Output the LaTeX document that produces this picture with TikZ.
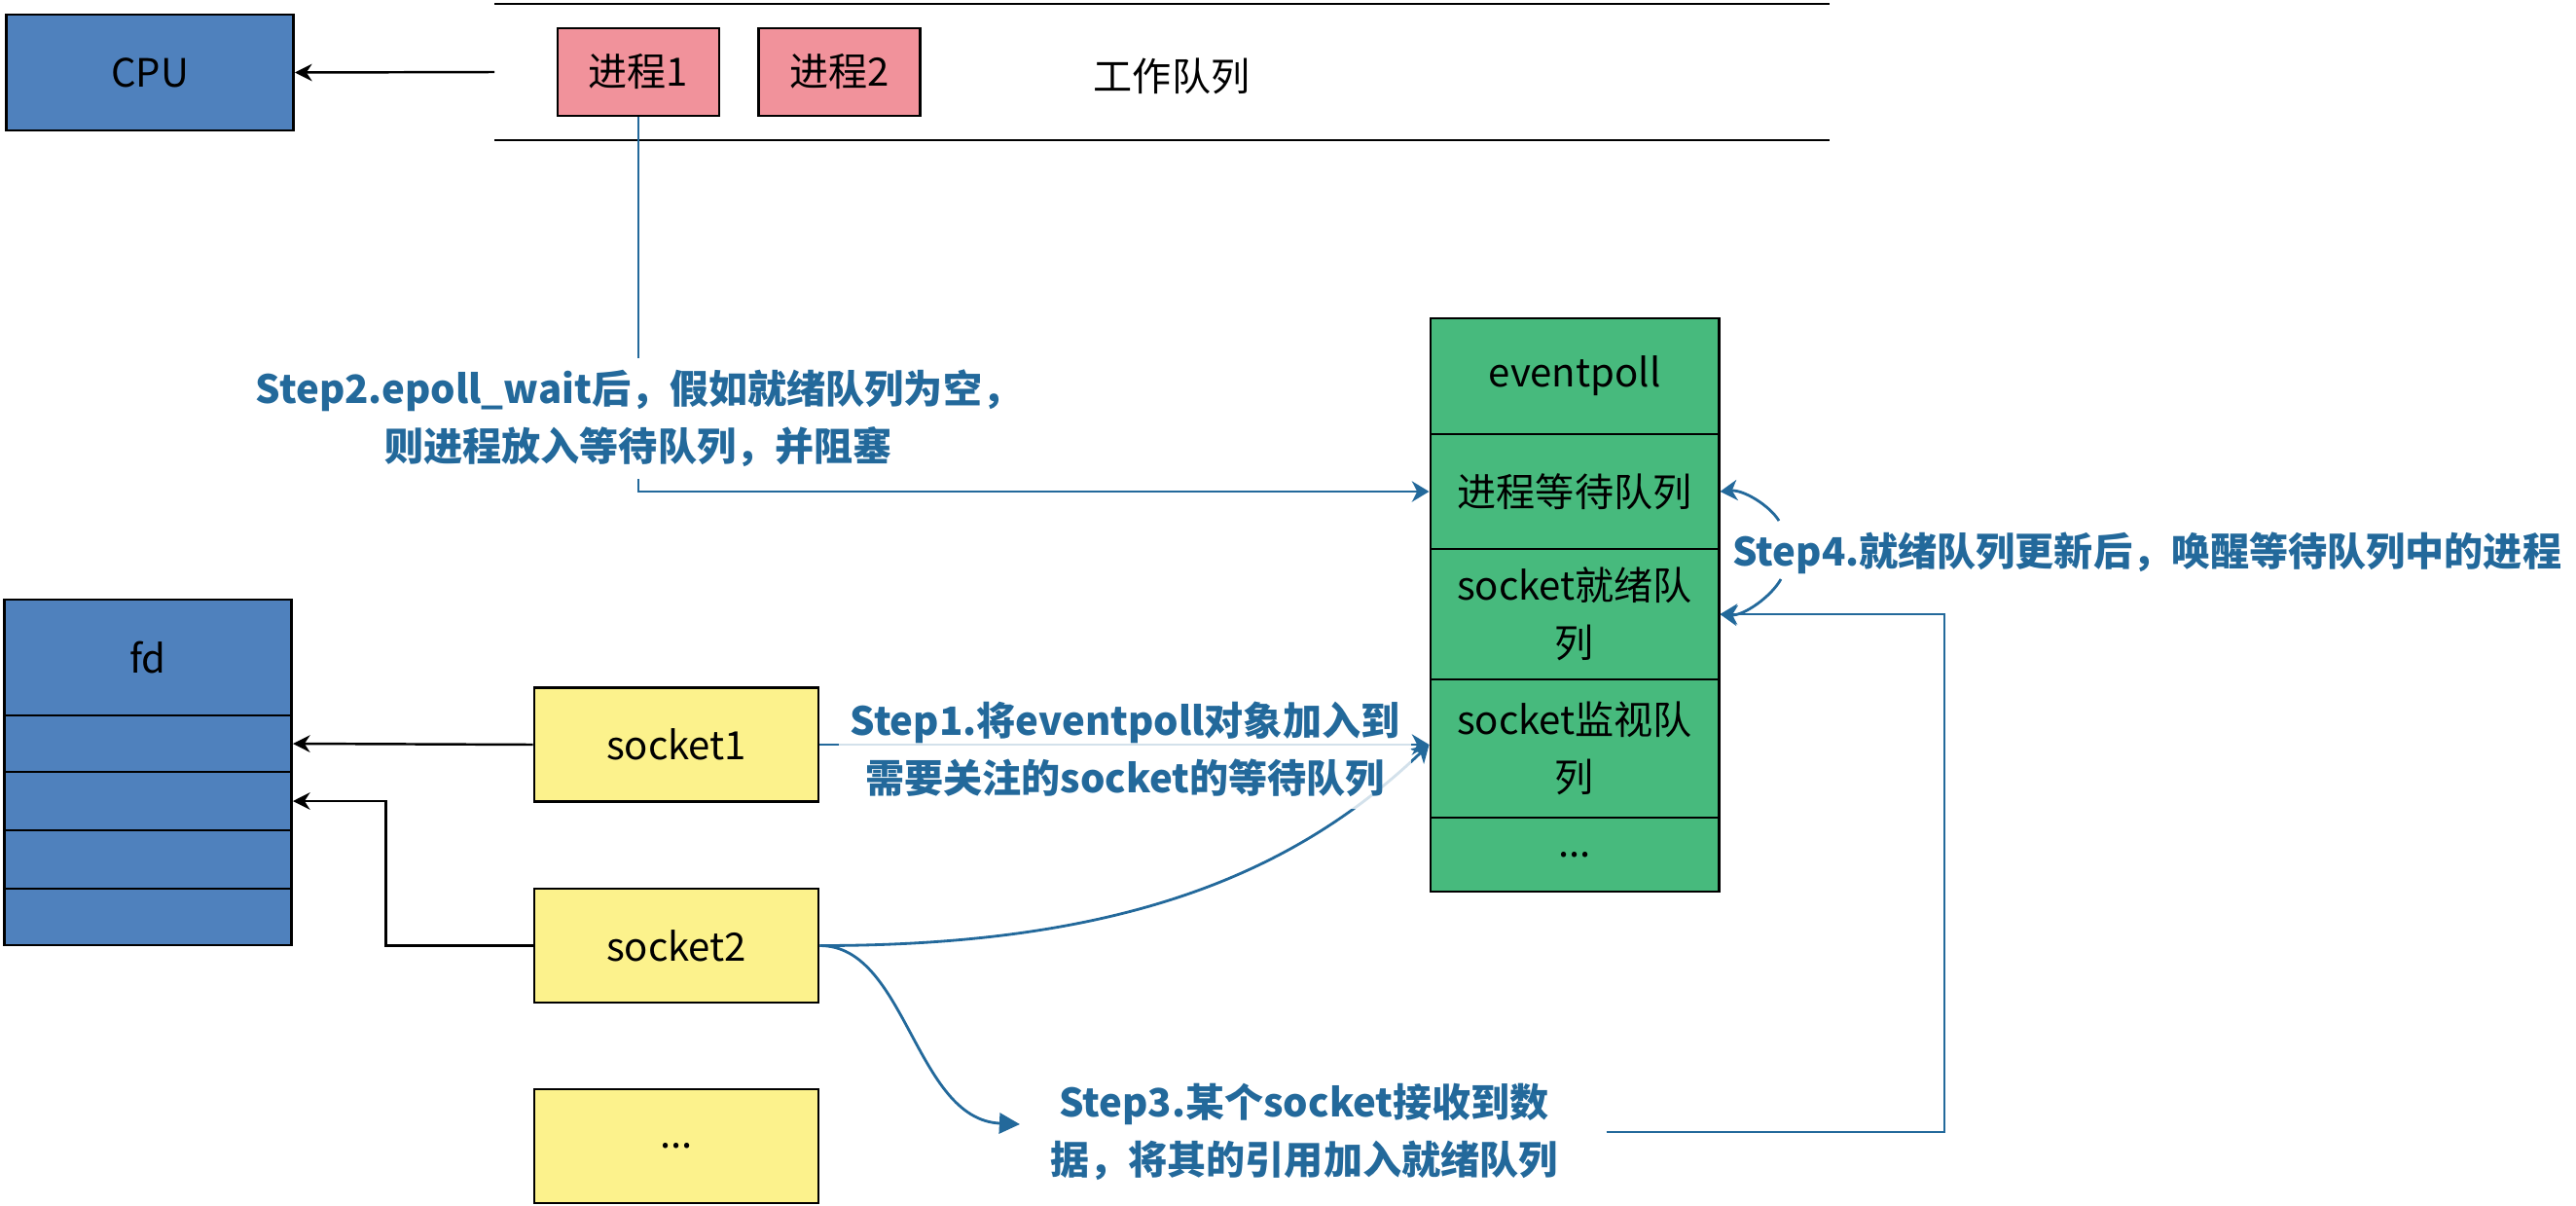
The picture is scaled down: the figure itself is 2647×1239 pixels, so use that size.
\documentclass[tikz,border=0pt]{standalone}
\usepackage{fontspec}
\setmainfont{Noto Sans CJK SC}
\usetikzlibrary{arrows.meta,calc}

\definecolor{cpublue}{RGB}{79,129,189}
\definecolor{procpink}{RGB}{241,146,155}
\definecolor{pollgreen}{RGB}{71,186,125}
\definecolor{sockyellow}{RGB}{252,242,140}
\definecolor{stepblue}{RGB}{35,105,155}

\begin{document}
\begin{tikzpicture}[x=0.01cm, y=-0.01cm,
		font=\fontsize{11.4}{16.8}\selectfont,
		cell/.style={draw=black, line width=0.8pt, inner sep=0pt, align=center},
		cpucell/.style={cell, fill=cpublue, minimum width=2.95cm},
		proccell/.style={cell, fill=procpink, minimum width=1.66cm, minimum height=0.90cm},
		pollcell/.style={cell, fill=pollgreen, minimum width=2.96cm},
		sockcell/.style={cell, fill=sockyellow, minimum width=2.92cm, minimum height=1.17cm},
		blackarrow/.style={draw=black, line width=0.7pt, -{Stealth[length=5pt,width=5pt]}},
		steparrow/.style={draw=stepblue, line width=0.8pt, -{Stealth[length=5pt,width=6pt,inset=1.5pt]}},
		steptext/.style={text=stepblue, font=\fontsize{11.4}{16.8}\selectfont\bfseries, align=center}]
			%%%%% START %%%%%
			\useasboundingbox (0,0) rectangle (2647,1239);
			
			% work queue
			\draw[line width=0.8pt] (508,4) -- (1880,4);
			\draw[line width=0.8pt] (508,144) -- (1880,144);
			\node[cpucell, minimum height=1.19cm] (cpu) at (154,74.5) {CPU};
			\node[proccell] (p1) at (656,74) {进程1};
			\node[proccell] (p2) at (862.5,74) {进程2};
			\node (workq) at (1204,78) {工作队列};
			\coordinate (qin) at (508,74);
			\draw[blackarrow] (qin) -- (cpu.east);
			
			% fd table
			\node[cpucell, minimum height=1.19cm] (fd0) at (152,675.5) {fd};
			\node[cpucell, minimum height=0.58cm] (fd1) at (152,764) {};
			\node[cpucell, minimum height=0.60cm] (fd2) at (152,823) {};
			\node[cpucell, minimum height=0.60cm] (fd3) at (152,883) {};
			\node[cpucell, minimum height=0.58cm] (fd4) at (152,942) {};
			
			% sockets
			\node[sockcell] (s1) at (695,765) {socket1};
			\node[sockcell] (s2) at (695,971.5) {socket2};
			\node[sockcell] (s3) at (695,1177.5) {...};
			\draw[blackarrow] (s1.west) -- (fd1.east);
			\draw[blackarrow] (s2.west) -- ++(-151,0) |- (fd2.east);
			
			% eventpoll
			\node[pollcell, minimum height=1.19cm] (ep) at (1618,386.5) {eventpoll};
			\node[pollcell, minimum height=1.18cm] (wait) at (1618,505) {进程等待队列};
			\node[pollcell, minimum height=1.34cm] (ready) at (1618,631) {socket就绪队\\列};
			\node[pollcell, minimum height=1.42cm] (watch) at (1618,769) {socket监视队\\列};
			\node[pollcell, minimum height=0.76cm] (epdots) at (1618,878) {...};
			
			% step 2
			\draw[steparrow] (p1.south) |- (wait.west);
			\node[steptext, fill=white] (step2) at (656,430) {Step2.epoll\_wait后，假如就绪队列为空，\\则进程放入等待队列，并阻塞};
			
			% step 1
			\draw[steparrow] (s1.east) -- (s1.east -| watch.west);
			\draw[steparrow] (s2.east) .. controls +(309,0) and +(-140,134) .. (s1.east -| watch.west);
			\node[steptext, fill=white, fill opacity=0.8, text opacity=1] (step1) at (1156,770) {Step1.将eventpoll对象加入到\\需要关注的socket的等待队列};
			
			% step 3
			\coordinate (s3tip) at (1048,1155);
			\draw[steparrow, -{Triangle[length=6pt,width=6pt]}] (s2.east) .. controls +(89,0) and +(-108,-5) .. (s3tip);
			\node[steptext, inner xsep=14pt] (step3) at (1340,1163) {Step3.某个socket接收到数\\据，将其的引用加入就绪队列};
			\coordinate (rturn) at (1998,631);
			\draw[steparrow] (step3.east) -| (rturn) -- (ready.east);
			
			% step 4
			\node[steptext, anchor=west] (step4) at (1768,568) {Step4.就绪队列更新后，唤醒等待队列中的进程};
			\coordinate (w1) at (1828,535);
			\coordinate (w2) at (1830,595);
			\draw[steparrow] (w1) .. controls +(-10,-16) and +(24,-2) .. (wait.east);
			\draw[steparrow] (w2) .. controls +(-10,18) and +(24,2) .. (ready.east);
			%%%%% END %%%%%
\end{tikzpicture}
\end{document}
